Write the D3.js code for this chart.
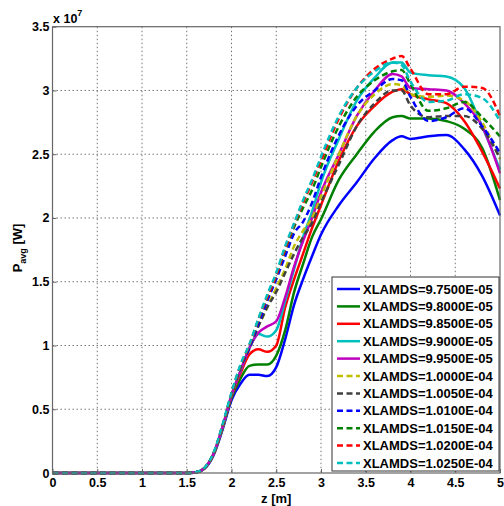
<!DOCTYPE html>
<html lang="en">
<head>
<meta charset="utf-8">
<title>P_avg vs z</title>
<script src="https://d3js.org/d3.v7.min.js"></script>
<style type="text/css">
  body { margin: 0; background: #fff; }
  svg { display: block; font-family: "Liberation Sans", Arial, sans-serif; }
  .tick text { font-weight: bold; font-size: 12.5px; fill: #000; }
</style>
</head>
<body>
<script type="text/javascript">

// z positions where values were read
var zs = [0, 1.5, 1.6, 1.7, 1.8, 1.9, 2.0, 2.1, 2.2, 2.3, 2.4, 2.5, 2.6, 2.7, 2.8, 2.9, 3.0, 3.2, 3.4, 3.6, 3.8, 3.9, 4.0, 4.2, 4.4, 4.6, 4.8, 5.0];

var names = ["XLAMDS=9.7500E-05", "XLAMDS=9.8000E-05", "XLAMDS=9.8500E-05", "XLAMDS=9.9000E-05",
             "XLAMDS=9.9500E-05", "XLAMDS=1.0000E-04", "XLAMDS=1.0050E-04", "XLAMDS=1.0100E-04",
             "XLAMDS=1.0150E-04", "XLAMDS=1.0200E-04", "XLAMDS=1.0250E-04"];
var colors = ["#0000ff", "#008000", "#ff0000", "#00bfbf", "#bf00bf", "#bfbf00", "#404040",
              "#0000ff", "#008000", "#ff0000", "#00bfbf"];
var dashed = [false, false, false, false, false, true, true, true, true, true, true];

// P_avg in units of 1e7 W
var p975  = [0, 0, 0.004, 0.035, 0.14, 0.34, 0.57, 0.70, 0.77, 0.77, 0.76, 0.83, 1.05, 1.32, 1.52, 1.70, 1.87, 2.10, 2.28, 2.47, 2.61, 2.64, 2.62, 2.64, 2.65, 2.54, 2.33, 2.02];
var p980  = [0, 0, 0.004, 0.037, 0.145, 0.35, 0.59, 0.74, 0.84, 0.85, 0.85, 0.92, 1.12, 1.42, 1.64, 1.85, 1.99, 2.30, 2.50, 2.68, 2.79, 2.80, 2.78, 2.78, 2.76, 2.70, 2.55, 2.14];
var p985  = [0, 0, 0.005, 0.038, 0.15, 0.36, 0.60, 0.78, 0.93, 0.97, 0.95, 1.00, 1.30, 1.52, 1.72, 1.92, 2.10, 2.45, 2.72, 2.88, 2.99, 3.01, 2.97, 2.93, 2.90, 2.76, 2.52, 2.23];
var p990  = [0, 0, 0.005, 0.04, 0.15, 0.36, 0.61, 0.80, 0.98, 1.09, 1.07, 1.12, 1.35, 1.60, 1.85, 2.05, 2.28, 2.62, 2.92, 3.10, 3.22, 3.22, 3.14, 3.12, 3.11, 3.02, 2.72, 2.38];
var p995  = [0, 0, 0.005, 0.04, 0.15, 0.36, 0.61, 0.80, 0.98, 1.10, 1.15, 1.19, 1.38, 1.62, 1.82, 2.00, 2.20, 2.50, 2.80, 3.00, 3.13, 3.11, 3.02, 3.01, 3.00, 2.90, 2.72, 2.35];
var p1000 = [0, 0, 0.005, 0.04, 0.15, 0.36, 0.61, 0.82, 0.98, 1.15, 1.30, 1.45, 1.60, 1.78, 1.90, 2.00, 2.17, 2.50, 2.80, 2.97, 3.05, 3.04, 2.97, 2.95, 2.96, 2.92, 2.75, 2.46];
var p1005 = [0, 0, 0.005, 0.04, 0.15, 0.36, 0.61, 0.82, 0.98, 1.15, 1.30, 1.42, 1.57, 1.72, 1.85, 1.96, 2.12, 2.42, 2.72, 2.90, 3.00, 3.00, 2.88, 2.79, 2.80, 2.80, 2.70, 2.47];
var p1010 = [0, 0, 0.005, 0.04, 0.155, 0.37, 0.62, 0.83, 0.98, 1.17, 1.35, 1.52, 1.70, 1.88, 1.97, 2.12, 2.32, 2.65, 2.88, 3.00, 3.09, 3.08, 2.95, 2.76, 2.79, 2.86, 2.72, 2.51];
var p1015 = [0, 0, 0.005, 0.04, 0.155, 0.37, 0.62, 0.84, 1.00, 1.20, 1.38, 1.55, 1.75, 1.93, 2.08, 2.22, 2.40, 2.72, 2.95, 3.08, 3.15, 3.16, 3.05, 2.84, 2.86, 2.91, 2.79, 2.64];
var p1020 = [0, 0, 0.005, 0.04, 0.155, 0.37, 0.62, 0.84, 1.00, 1.20, 1.38, 1.55, 1.76, 1.95, 2.12, 2.28, 2.45, 2.78, 3.02, 3.17, 3.25, 3.27, 3.17, 2.97, 2.97, 3.03, 3.02, 2.80];
var p1025 = [0, 0, 0.006, 0.042, 0.16, 0.38, 0.63, 0.85, 1.01, 1.21, 1.40, 1.57, 1.78, 1.96, 2.14, 2.30, 2.48, 2.80, 3.02, 3.15, 3.22, 3.20, 3.07, 2.91, 2.92, 2.97, 2.94, 2.76];
var allSeries = [p975, p980, p985, p990, p995, p1000, p1005, p1010, p1015, p1020, p1025];

var xTicks = [0, 0.5, 1, 1.5, 2, 2.5, 3, 3.5, 4, 4.5, 5];
var yTicks = [0, 0.5, 1, 1.5, 2, 2.5, 3, 3.5];

var w = 504, h = 506;
var mLeft = 52.5, mRight = 500, mTop = 26.7, mBottom = 473;

var svg = d3.select("body").append("svg").attr("width", w).attr("height", h);

var x = d3.scaleLinear().domain([0, 5]).range([mLeft, mRight]);
var y = d3.scaleLinear().domain([0, 3.5]).range([mBottom, mTop]);

// grid
svg.append("g").selectAll("line").data(xTicks.slice(1, -1)).enter().append("line")
  .attr("x1", function(d) { return x(d); }).attr("x2", function(d) { return x(d); })
  .attr("y1", mTop).attr("y2", mBottom)
  .attr("stroke", "#777").attr("stroke-width", 1).attr("stroke-dasharray", "1.5,2.5");
svg.append("g").selectAll("line").data(yTicks.slice(1, -1)).enter().append("line")
  .attr("y1", function(d) { return y(d); }).attr("y2", function(d) { return y(d); })
  .attr("x1", mLeft).attr("x2", mRight)
  .attr("stroke", "#777").attr("stroke-width", 1).attr("stroke-dasharray", "1.5,2.5");

// curves
var line = d3.line()
  .x(function(d, i) { return x(zs[i]); })
  .y(function(d) { return y(d); })
  .curve(d3.curveMonotoneX);

svg.append("g").selectAll("path").data(allSeries).enter().append("path")
  .attr("d", line)
  .attr("fill", "none")
  .attr("stroke", function(d, i) { return colors[i]; })
  .attr("stroke-width", 2.5)
  .attr("stroke-dasharray", function(d, i) { return dashed[i] ? "6,3.5" : null; });

// axes
var xAxis = svg.append("g").attr("transform", "translate(0," + mBottom + ")")
  .call(d3.axisBottom(x).tickValues(xTicks).tickSize(-4).tickPadding(5)
    .tickFormat(function(d) { return d; }));
var yAxis = svg.append("g").attr("transform", "translate(" + mLeft + ",0)")
  .call(d3.axisLeft(y).tickValues(yTicks).tickSize(-4).tickPadding(3)
    .tickFormat(function(d) { return d; }));
[xAxis, yAxis].forEach(function(a) {
  a.select(".domain").remove();
  a.selectAll(".tick line").attr("stroke", "#666");
});
xAxis.selectAll(".tick text").attr("dy", "0.72em");

// box
svg.append("rect").attr("x", mLeft).attr("y", mTop)
  .attr("width", mRight - mLeft).attr("height", mBottom - mTop)
  .attr("fill", "none").attr("stroke", "#666").attr("stroke-width", 1.2);

// exponent label
var ex = svg.append("text").attr("x", 53).attr("y", 23)
  .style("font-weight", "bold").style("font-size", "12.5px");
ex.append("tspan").text("x 10");
ex.append("tspan").attr("dy", -7).style("font-size", "9px").text("7");

// axis labels
svg.append("text").attr("x", (mLeft + mRight) / 2).attr("y", 503)
  .attr("text-anchor", "middle")
  .style("font-weight", "bold").style("font-size", "13px")
  .text("z [m]");

var yl = svg.append("text").attr("transform", "translate(22,248) rotate(-90)")
  .attr("text-anchor", "middle")
  .style("font-weight", "bold").style("font-size", "13px");
yl.append("tspan").text("P");
yl.append("tspan").attr("dy", 4).style("font-size", "9px").text("avg");
yl.append("tspan").attr("dy", -4).text(" [W]");

// legend
var lgX = 332, lgY = 277, lgW = 167, lgH = 194, rowH = 17.4;
svg.append("rect").attr("x", lgX).attr("y", lgY).attr("width", lgW).attr("height", lgH)
  .attr("fill", "#fff").attr("stroke", "#333").attr("stroke-width", 1);

var rows = svg.append("g").selectAll("g").data(names).enter().append("g")
  .attr("transform", function(d, i) { return "translate(0," + (lgY + 12 + i * rowH) + ")"; });
rows.append("line")
  .attr("x1", lgX + 5).attr("x2", lgX + 28)
  .attr("stroke", function(d, i) { return colors[i]; })
  .attr("stroke-width", 2.5)
  .attr("stroke-dasharray", function(d, i) { return dashed[i] ? "6,3.5" : null; });
rows.append("text")
  .attr("x", lgX + 31).attr("dy", "0.36em")
  .style("font-weight", "bold").style("font-size", "13px")
  .text(function(d) { return d; });

</script>
</body>
</html>
